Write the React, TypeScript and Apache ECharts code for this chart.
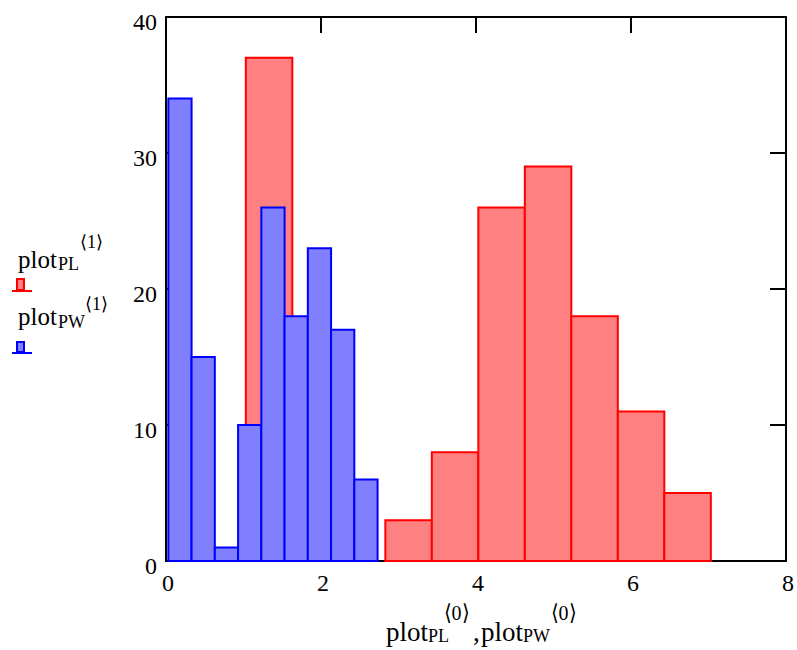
import React, { useEffect, useRef } from "react";
import * as echarts from "echarts";

// Histogram of plot_PL (red): bin edges and counts
const plEdges = [1.03, 1.63, 2.23, 2.83, 3.43, 4.03, 4.63, 5.23, 5.83, 6.43, 7.03];
const plCounts = [37, 13, 0, 3, 8, 26, 29, 18, 11, 5];
// Histogram of plot_PW (blue): bin edges and counts
const pwEdges = [0.03, 0.33, 0.63, 0.93, 1.23, 1.53, 1.83, 2.13, 2.43, 2.73];
const pwCounts = [34, 15, 1, 10, 26, 18, 23, 17, 6];

const xMin = 0, xMax = 8, xStep = 2;
const yMin = 0, yMax = 40, yStep = 10;

const FONT = "Liberation Serif";

function toBins(edges: number[], counts: number[]) {
  return counts.map((c, i) => [edges[i], edges[i + 1], c]);
}

function makeSeries(name: string, data: number[][], fill: string, stroke: string) {
  return {
    type: "custom",
    name,
    data,
    encode: { x: [0, 1], y: 2 },
    renderItem: (params: any, api: any) => {
      const x0 = api.value(0);
      const x1 = api.value(1);
      const v = api.value(2);
      if (!v) return null;
      const p0 = api.coord([x0, v]);
      const p1 = api.coord([x1, 0]);
      return {
        type: "rect",
        shape: { x: p0[0], y: p0[1], width: p1[0] - p0[0], height: p1[1] - p0[1] },
        style: { fill, stroke, lineWidth: 2 },
      };
    },
  };
}

function txt(x: number, y: number, text: string, size: number, scaleY = 1) {
  return {
    type: "text",
    x,
    y,
    scaleY,
    style: {
      text,
      fill: "#000",
      fontSize: size,
      fontFamily: FONT,
      align: "left",
      verticalAlign: "middle",
    },
  };
}

export default function App() {
  const ref = useRef<HTMLDivElement>(null);
  useEffect(() => {
    if (!ref.current) return;
    const chart = echarts.init(ref.current, null, { renderer: "svg" });
    const axisLine = { show: true, onZero: false, lineStyle: { color: "#000", width: 2 } };
    const tick = { show: true, inside: true, length: 16, lineStyle: { color: "#000", width: 2 } };
    const labelStyle = { color: "#000", fontSize: 24, fontFamily: FONT };
    chart.setOption({
      animation: false,
      textStyle: { fontFamily: FONT },
      grid: { left: 166, top: 17, width: 624, height: 544, containLabel: false },
      xAxis: [
        {
          type: "value", min: xMin, max: xMax, interval: xStep, position: "bottom",
          axisLine, axisTick: tick, splitLine: { show: false },
          axisLabel: { ...labelStyle, margin: 10, padding: [0, 0, 0, 4] },
        },
        {
          type: "value", min: xMin, max: xMax, interval: xStep, position: "top",
          axisLine, axisTick: tick, splitLine: { show: false }, axisLabel: { show: false },
        },
      ],
      yAxis: [
        {
          type: "value", min: yMin, max: yMax, interval: yStep, position: "left",
          axisLine, axisTick: tick, splitLine: { show: false },
          axisLabel: { ...labelStyle, margin: 9, verticalAlign: "top", lineHeight: 10 },
        },
        {
          type: "value", min: yMin, max: yMax, interval: yStep, position: "right",
          axisLine, axisTick: tick, splitLine: { show: false }, axisLabel: { show: false },
        },
      ],
      series: [
        makeSeries("plotPL", toBins(plEdges, plCounts), "#ff8080", "#ff0000"),
        makeSeries("plotPW", toBins(pwEdges, pwCounts), "#8080ff", "#0000ff"),
      ],
      graphic: [
        // legend entry 1
        txt(18, 259, "plot", 25),
        txt(58, 264, "PL", 18),
        txt(80, 242, "\u27E81\u27E9", 18),
        { type: "rect", shape: { x: 17, y: 279, width: 7, height: 11 }, style: { fill: "#ff8080", stroke: "#ff0000", lineWidth: 2 } },
        { type: "line", shape: { x1: 12, y1: 291, x2: 32, y2: 291 }, style: { stroke: "#ff0000", lineWidth: 2 } },
        // legend entry 2
        txt(18, 316, "plot", 25),
        txt(58, 322, "PW", 18),
        txt(85, 303.5, "\u27E81\u27E9", 18),
        { type: "rect", shape: { x: 17, y: 342, width: 7, height: 10 }, style: { fill: "#8080ff", stroke: "#0000ff", lineWidth: 2 } },
        { type: "line", shape: { x1: 12, y1: 353, x2: 32, y2: 353 }, style: { stroke: "#0000ff", lineWidth: 2 } },
        // x-axis title
        txt(386, 632, "plot", 27),
        txt(428, 636, "PL", 18),
        txt(444, 612.5, "\u27E80\u27E9", 20, 1.1),
        txt(473, 632, ",", 27),
        txt(481, 632, "plot", 27),
        txt(523, 636, "PW", 18),
        txt(551, 612.5, "\u27E80\u27E9", 20, 1.1),
      ],
    });
    return () => chart.dispose();
  }, []);
  return (
    <div
      ref={ref}
      style={{ position: "fixed", left: 0, top: 0, width: 797, height: 650, background: "#fff" }}
    />
  );
}
